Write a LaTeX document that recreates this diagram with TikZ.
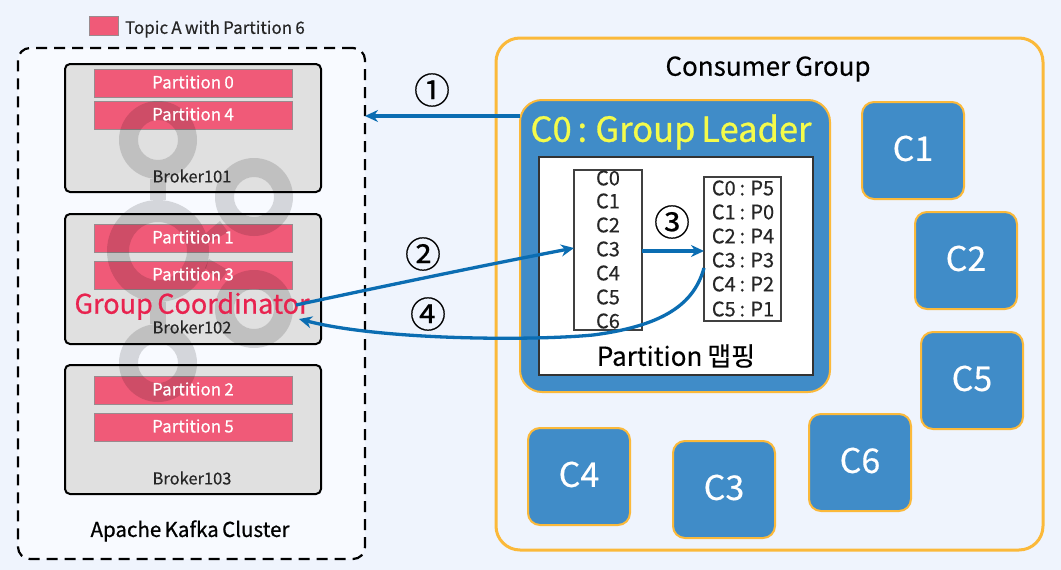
\documentclass[tikz,border=0pt]{standalone}
\usepackage{fontspec}
\setmainfont{Noto Sans CJK KR}
\newfontfamily\medfont[FakeBold=0.35,WordSpace=0.85]{Noto Sans CJK KR}
\newfontfamily\heavyfont[FakeBold=0.8,WordSpace=0.75]{Noto Sans CJK KR}
\usetikzlibrary{arrows.meta}
\definecolor{pagebg}{HTML}{EFF4FD}
\definecolor{clusterbg}{HTML}{F8FAFF}
\definecolor{brokerbg}{HTML}{E0E0E0}
\definecolor{partred}{HTML}{F05A78}
\definecolor{partedge}{HTML}{9A8A8E}
\definecolor{cblue}{HTML}{408CC8}
\definecolor{corange}{HTML}{FBB93A}
\definecolor{arrowblue}{HTML}{0B6DB2}
\definecolor{gcred}{HTML}{E8234F}
\definecolor{leaderyellow}{HTML}{F4FB4B}
\newcommand{\fs}[1]{\fontsize{#1}{#1}\selectfont}
\newcommand{\up}[1]{\raisebox{4.5pt}{#1}}
\tikzset{
  x=1pt,y=-1pt,outer sep=0pt,
  broker/.style={draw=black,line width=2pt,fill=brokerbg,rounded corners=5pt,minimum width=256pt,inner sep=0pt,anchor=north west},
  partbox/.style={draw=partedge,line width=1pt,fill=partred,minimum width=198pt,minimum height=28pt,inner sep=0pt,anchor=north west},
  parttext/.style={text=white,font=\medfont\fs{17},inner sep=0pt},
  brokertext/.style={text=black!85,font=\medfont\fs{16.5},inner sep=0pt},
  member/.style={draw=corange,line width=2pt,fill=cblue,rounded corners=12pt,minimum width=102pt,minimum height=97pt,text=white,font=\medfont\fs{34},inner sep=0pt,anchor=north west},
  listbox/.style={draw=black!75,line width=1.2pt,fill=white,inner sep=0pt,anchor=north west},
  listtext/.style={text=black!85,font=\medfont\fs{20},inner sep=0pt},
  flow/.style={draw=arrowblue,line width=3.3pt,-{Stealth[length=13pt,width=12pt]}},
  stepmark/.style={font=\medfont\fs{36},text=black,inner sep=0pt},
  logo/.style={fill=black,fill opacity=0.14,even odd rule,draw=none}
}
\begin{document}
\begin{tikzpicture}
\useasboundingbox (0,0) rectangle (1061,570);
\fill[pagebg] (0,0) rectangle (1061,570);
% legend
\node[draw=partedge,line width=1pt,fill=partred,minimum width=29pt,minimum height=19pt,inner sep=0pt,anchor=north west] (swatch) at (89,16) {};
\node[anchor=west,inner sep=0pt,font=\medfont\fs{17},text=black!85] (legend) at (125,29) {Topic A with Partition 6};
% cluster
\node[draw=black,line width=2.2pt,dash pattern=on 11pt off 7pt,fill=clusterbg,rounded corners=12pt,minimum width=347pt,minimum height=511pt,anchor=north west,inner sep=0pt] (cluster) at (18,48) {};
\node[broker,minimum height=128pt] (b1) at (65,64) {};
\node[broker,minimum height=130pt] (b2) at (65,214) {};
\node[broker,minimum height=129pt] (b3) at (65,365) {};
\node[partbox] (p0) at (94,69) {};
\node[partbox] (p4) at (94,101) {};
\node[partbox] (p1) at (94,224) {};
\node[partbox] (p3) at (94,261) {};
\node[partbox] (p2) at (94,376) {};
\node[partbox] (p5) at (94,413) {};
% watermark logo
\fill[logo] (158,140) circle (39) (158,140) circle (20);
\fill[logo] (158,363) circle (39) (158,363) circle (20);
\fill[logo] (158,251) circle (51) (158,251) circle (29);
\fill[logo] (254,197) circle (39) (254,197) circle (20);
\fill[logo] (254,309) circle (39) (254,309) circle (20);
\fill[logo] (150,179) rectangle (166,200);
\fill[logo] (150,302) rectangle (166,324);
\fill[logo] (205,234) -- (220,221) -- (228,232) -- (209,243) -- cycle;
\fill[logo] (205,268) -- (220,281) -- (228,270) -- (209,259) -- cycle;
% labels
\node[parttext] (t0) at (193,82) {Partition 0};
\node[parttext] (t4) at (193,114) {Partition 4};
\node[parttext] (t1) at (193,237) {Partition 1};
\node[parttext] (t3) at (193,274) {Partition 3};
\node[parttext] (t2) at (193,389) {Partition 2};
\node[parttext] (t5) at (193,426) {Partition 5};
\node[brokertext] (bt1) at (192,176) {Broker101};
\node[brokertext] (bt2) at (192,327) {Broker102};
\node[brokertext] (bt3) at (192,478) {Broker103};
\node[inner sep=0pt,font=\heavyfont\fs{20.5},text=black] (clabel) at (190,531) {Apache Kafka Cluster};
\node[inner sep=0pt,font=\heavyfont\fs{27},text=gcred,anchor=center] (gc) at (192,306) {Group Coordinator};
% consumer group
\node[draw=corange,line width=3pt,fill=pagebg,rounded corners=24pt,minimum width=547pt,minimum height=512pt,anchor=north west,inner sep=0pt] (group) at (496,38) {};
\node[inner sep=0pt,font=\medfont\fs{26},text=black] (glabel) at (768,69) {Consumer Group};
\node[draw=corange,line width=2pt,fill=cblue,rounded corners=22pt,minimum width=310pt,minimum height=292pt,anchor=north west,inner sep=0pt] (leader) at (520,100) {};
\node[inner sep=0pt,font=\heavyfont\fs{34.5},text=leaderyellow] (ltext) at (671,132) {C0 : Group Leader};
\node[draw=black!80,line width=1.5pt,fill=white,minimum width=274pt,minimum height=218pt,anchor=north west,inner sep=0pt] (inner) at (539,157) {};
\node[listbox,minimum width=68pt,minimum height=160pt] (list) at (574,170) {};
\node[listbox,minimum width=77pt,minimum height=144pt] (map) at (704,177) {};
\node[listtext] (c0) at (608,178) {C0};
\node[listtext] (c1) at (608,201) {C1};
\node[listtext] (c2) at (608,225) {C2};
\node[listtext] (c3) at (608,249) {C3};
\node[listtext] (c4) at (608,273) {C4};
\node[listtext] (c5) at (608,297) {C5};
\node[listtext] (c6) at (608,321) {C6};
\node[listtext] (m0) at (743,188) {C0 : P5};
\node[listtext] (m1) at (743,212) {C1 : P0};
\node[listtext] (m2) at (743,236) {C2 : P4};
\node[listtext] (m3) at (743,260) {C3 : P3};
\node[listtext] (m4) at (743,284) {C4 : P2};
\node[listtext] (m5) at (743,309) {C5 : P1};
\node[inner sep=0pt,font=\medfont\fs{26},text=black] (mapping) at (676,356) {Partition 맵핑};
% members
\node[member] (C1) at (862,102) {\up{C1}};
\node[member] (C2) at (915,212) {\up{C2}};
\node[member] (C5) at (921,332) {\up{C5}};
\node[member] (C6) at (809,414) {\up{C6}};
\node[member] (C3) at (673,441) {\up{C3}};
\node[member] (C4) at (528,428) {\up{C4}};
% connectors
\coordinate (a1s) at (leader.west |- 0,116);
\coordinate (a1e) at (cluster.east |- 0,116);
\coordinate (a2s) at (296,305);
\coordinate (a2e) at (list.west |- 0,248);
\coordinate (a3s) at (list.east |- 0,251);
\coordinate (a3e) at (map.west |- 0,251);
\coordinate (a4s) at (map.west |- 0,268);
\coordinate (a4e) at (299,319);
\draw[flow] (a1s) -- (a1e);
\draw[flow] (a2s) .. controls (380,287) and (480,266) .. (a2e);
\draw[flow] (a3s) -- (a3e);
\draw[flow] (a4s) .. controls (695,300) and (670,325) .. (593,335) .. controls (530,341) and (380,340) .. (a4e);
\node[stepmark] (s1) at (432,90) {①};
\node[stepmark] (s2) at (423,254) {②};
\node[stepmark] (s3) at (672,222) {③};
\node[stepmark] (s4) at (428,314) {④};
\end{tikzpicture}
\end{document}
